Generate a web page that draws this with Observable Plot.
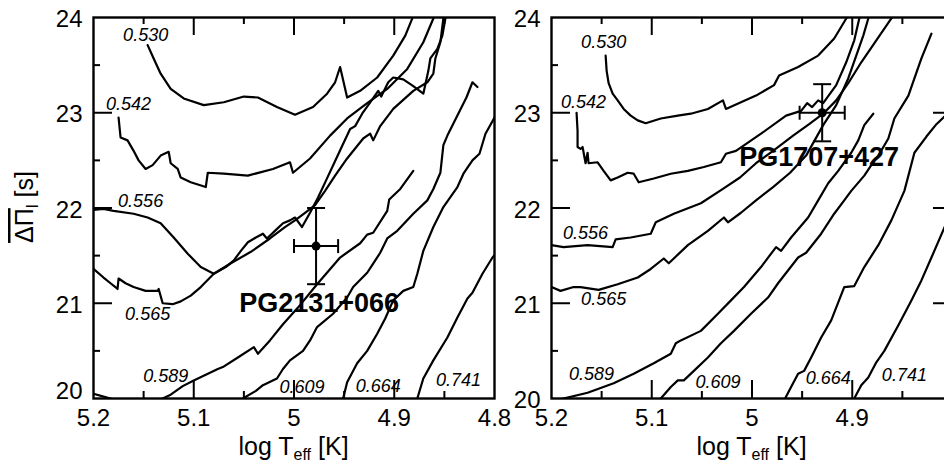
<!DOCTYPE html>
<html><head><meta charset="utf-8">
<script src="https://cdn.jsdelivr.net/npm/d3@7"></script>
<script src="https://cdn.jsdelivr.net/npm/@observablehq/plot@0.6"></script>
<style>
body{margin:0;background:#fff;}
#wrap{position:relative;width:944px;height:464px;overflow:hidden;background:#fff;}
#wrap svg{position:absolute;top:0;}
</style></head><body><div id="wrap"></div>
<script>
// ---- data: stellar masses (labels of the tracks) ----
const masses = ["0.530","0.542","0.556","0.565","0.589","0.609","0.664","0.741"];

// ---- left panel tracks: [log Teff, mean period spacing] ----
const left530 = [[5.146,23.71],[5.140,23.57],[5.133,23.41],[5.123,23.25],[5.110,23.15],[5.090,23.08],[5.070,23.11],[5.050,23.17],[5.036,23.16],[5.017,23.06],[4.999,22.98],[4.981,23.06],[4.967,23.20],[4.959,23.32],[4.954,23.48],[4.947,23.16],[4.934,23.23],[4.917,23.37],[4.901,23.60],[4.889,23.81],[4.882,23.99],[4.880,24.04]];
const left542 = [[5.175,22.95],[5.173,22.74],[5.166,22.71],[5.160,22.60],[5.155,22.50],[5.148,22.41],[5.141,22.45],[5.133,22.55],[5.125,22.59],[5.123,22.47],[5.116,22.41],[5.113,22.32],[5.103,22.27],[5.088,22.22],[5.086,22.37],[5.070,22.36],[5.046,22.34],[5.021,22.41],[5.004,22.48],[5.001,22.37],[4.984,22.52],[4.964,22.76],[4.947,22.94],[4.927,23.10],[4.907,23.25],[4.887,23.46],[4.871,23.74],[4.861,23.99],[4.859,24.04]];
const left556 = [[5.200,21.98],[5.190,21.99],[5.180,21.97],[5.160,21.94],[5.146,21.90],[5.133,21.84],[5.120,21.69],[5.106,21.52],[5.093,21.38],[5.080,21.31],[5.068,21.38],[5.060,21.45],[5.053,21.55],[5.046,21.64],[5.038,21.69],[5.031,21.73],[5.027,21.68],[5.019,21.76],[5.011,21.84],[5.004,21.87],[4.999,21.90],[4.992,21.80],[4.984,21.95],[4.976,22.11],[4.968,22.29],[4.960,22.47],[4.952,22.65],[4.944,22.83],[4.939,22.86],[4.932,22.99],[4.924,23.11],[4.916,23.23],[4.913,23.17],[4.906,23.32],[4.901,23.37],[4.891,23.35],[4.881,23.28],[4.871,23.20],[4.866,23.44],[4.864,23.57],[4.857,23.67],[4.852,23.81],[4.849,23.99],[4.848,24.04]];
const left565 = [[5.200,21.36],[5.190,21.27],[5.183,21.21],[5.176,21.15],[5.175,21.26],[5.168,21.21],[5.160,21.17],[5.148,21.13],[5.136,21.13],[5.135,21.15],[5.131,21.00],[5.121,20.99],[5.113,21.02],[5.103,21.08],[5.093,21.17],[5.080,21.31],[5.063,21.42],[5.043,21.54],[5.024,21.68],[5.009,21.80],[4.999,21.87],[4.989,21.95],[4.979,22.03],[4.969,22.18],[4.959,22.34],[4.947,22.52],[4.931,22.73],[4.924,22.78],[4.921,22.71],[4.914,22.86],[4.901,23.04],[4.881,23.23],[4.867,23.32],[4.861,23.41],[4.859,23.57],[4.854,23.74],[4.851,23.99],[4.850,24.04]];
const left589 = [[5.200,20.05],[5.190,20.02],[5.180,19.99],[5.168,19.96],[5.148,19.95],[5.136,19.97],[5.131,20.00],[5.123,20.04],[5.111,20.13],[5.100,20.19],[5.088,20.25],[5.076,20.31],[5.071,20.33],[5.056,20.43],[5.040,20.54],[5.036,20.47],[5.024,20.61],[5.011,20.78],[4.994,20.98],[4.977,21.20],[4.954,21.48],[4.934,21.63],[4.927,21.72],[4.921,21.74],[4.907,21.97],[4.905,22.09],[4.894,22.20],[4.881,22.39]];
const left609 = [[5.056,19.96],[5.051,20.00],[5.038,20.08],[5.031,20.14],[5.017,20.21],[5.011,20.31],[5.004,20.40],[4.991,20.50],[4.984,20.61],[4.977,20.75],[4.961,20.89],[4.947,21.06],[4.941,21.17],[4.927,21.32],[4.922,21.40],[4.914,21.53],[4.907,21.68],[4.897,21.76],[4.881,21.94],[4.867,22.08],[4.861,22.20],[4.854,22.37],[4.851,22.66],[4.847,22.76],[4.837,22.97],[4.828,23.16],[4.822,23.32],[4.817,23.27]];
const left664 = [[4.952,19.95],[4.951,20.00],[4.947,20.17],[4.937,20.37],[4.927,20.50],[4.917,20.68],[4.909,20.84],[4.901,21.03],[4.891,21.13],[4.881,21.17],[4.877,21.31],[4.871,21.55],[4.861,21.80],[4.851,22.01],[4.837,22.22],[4.831,22.36],[4.822,22.50],[4.815,22.57],[4.809,22.78],[4.800,22.95],[4.796,23.02]];
const left741 = [[4.879,19.95],[4.877,20.00],[4.871,20.21],[4.861,20.40],[4.847,20.64],[4.837,20.85],[4.827,21.05],[4.822,21.11],[4.812,21.31],[4.802,21.48],[4.798,21.53]];

// ---- right panel tracks ----
const right530 = [[5.146,23.60],[5.145,23.44],[5.143,23.31],[5.139,23.20],[5.134,23.13],[5.128,23.04],[5.121,22.97],[5.114,22.92],[5.106,22.89],[5.091,22.94],[5.074,22.97],[5.061,22.99],[5.044,23.04],[5.029,23.13],[5.026,23.04],[5.011,23.11],[4.996,23.18],[4.978,23.29],[4.973,23.39],[4.954,23.48],[4.934,23.60],[4.918,23.78],[4.906,23.99],[4.904,24.04]];
const right542 = [[5.175,23.00],[5.174,22.81],[5.174,22.64],[5.171,22.62],[5.169,22.64],[5.166,22.47],[5.164,22.58],[5.163,22.47],[5.154,22.48],[5.148,22.39],[5.141,22.29],[5.134,22.32],[5.124,22.37],[5.118,22.36],[5.113,22.27],[5.098,22.31],[5.081,22.36],[5.064,22.39],[5.048,22.43],[5.031,22.48],[5.026,22.57],[5.016,22.60],[4.991,22.78],[4.966,22.97],[4.951,23.02],[4.945,23.10],[4.940,23.06],[4.934,23.13],[4.929,23.10],[4.916,23.29],[4.906,23.53],[4.898,23.76],[4.893,23.99],[4.891,24.04]];
const right556 = [[5.200,21.61],[5.188,21.59],[5.164,21.61],[5.139,21.59],[5.136,21.67],[5.121,21.69],[5.101,21.73],[5.096,21.85],[5.078,21.94],[5.051,22.05],[5.029,22.20],[5.012,22.32],[4.996,22.47],[4.979,22.60],[4.959,22.76],[4.943,22.88],[4.929,22.99],[4.916,23.13],[4.904,23.31],[4.891,23.53],[4.876,23.76],[4.861,23.99],[4.858,24.04]];
const right565 = [[5.200,21.17],[5.191,21.13],[5.178,21.17],[5.171,21.17],[5.153,21.14],[5.134,21.20],[5.114,21.27],[5.101,21.36],[5.088,21.47],[5.083,21.42],[5.064,21.61],[5.044,21.76],[5.028,21.90],[5.024,21.85],[5.011,21.95],[4.996,22.08],[4.979,22.22],[4.962,22.37],[4.946,22.55],[4.929,22.87],[4.916,23.08],[4.904,23.36],[4.896,23.60],[4.889,23.81],[4.884,23.99],[4.883,24.04]];
const right589 = [[5.200,19.97],[5.184,20.01],[5.164,20.06],[5.138,20.16],[5.118,20.26],[5.098,20.37],[5.081,20.47],[5.076,20.58],[5.071,20.61],[5.051,20.71],[5.034,20.89],[5.021,21.03],[5.008,21.17],[4.991,21.38],[4.976,21.59],[4.971,21.55],[4.961,21.69],[4.944,21.90],[4.934,22.08],[4.924,22.26],[4.914,22.39],[4.901,22.58],[4.894,22.71],[4.888,22.87],[4.879,22.99]];
const right609 = [[5.094,19.96],[5.091,20.00],[5.081,20.12],[5.074,20.19],[5.068,20.19],[5.058,20.29],[5.044,20.43],[5.031,20.58],[5.018,20.71],[5.001,20.89],[4.984,21.06],[4.974,21.21],[4.954,21.48],[4.946,21.53],[4.931,21.73],[4.918,21.94],[4.908,22.08],[4.901,22.18],[4.888,22.34],[4.881,22.45],[4.874,22.55],[4.864,22.73],[4.858,22.94],[4.844,23.18],[4.838,23.36],[4.831,23.57],[4.821,23.83]];
const right664 = [[4.969,19.96],[4.967,20.00],[4.961,20.12],[4.954,20.26],[4.948,20.29],[4.941,20.43],[4.931,20.64],[4.921,20.82],[4.908,21.17],[4.898,21.18],[4.888,21.38],[4.874,21.61],[4.861,21.87],[4.848,22.18],[4.838,22.58],[4.826,22.75],[4.816,22.88],[4.807,22.97],[4.796,23.10]];
const right741 = [[4.900,19.96],[4.898,20.00],[4.891,20.14],[4.884,20.22],[4.876,20.38],[4.868,20.50],[4.854,20.77],[4.841,21.03],[4.831,21.24],[4.821,21.48],[4.807,21.82],[4.796,22.08]];

// ---- track label anchors ----
const leftLabelTeff  = [5.148,5.165,5.153,5.146,5.128,4.992,4.916,4.836];
const leftLabelDp    = [23.81,23.09,22.07,20.88,20.23,20.12,20.13,20.19];
const rightLabelTeff = [5.148,5.168,5.166,5.148,5.160,5.034,4.924,4.848];
const rightLabelDp   = [23.74,23.11,21.74,21.04,20.26,20.17,20.21,20.24];

// ---- observed stars ----
const starNames   = ["PG2131+066","PG1707+427"];
const starTeff    = [4.978, 4.930];
const starTeffErr = [0.022, 0.0225];
const starDp      = [21.6, 23.0];
const starDpErr   = [0.4, 0.3];
const starLabelTeff = [4.975, 4.933];
const starLabelDp   = [21.00, 22.53];

// ---- ticks ----
const xMajor = [5.1, 5.0, 4.9];
const xMinor = [5.15, 5.05, 4.95, 4.85];
const yMajor = [21, 22, 23];
const yMinor = [20.5, 21.5, 22.5, 23.5];
const xTickLabelsLeft  = [5.2, 5.1, 5.0, 4.9, 4.8];
const xTickLabelsRight = [5.2, 5.1, 5.0, 4.9];
const yTickLabels = [24, 23, 22, 21];
const yTickLabelBottom = [20];

// ---- layout ----
const FONT = "'Liberation Sans', Arial, Helvetica, sans-serif";
const W = 500, H = 464, ML = 93, MR = 6, MT = 17, MB = 66;
const PW = W - ML - MR, PH = H - MT - MB;

const vbar = {draw(ctx, size) { const r = Math.sqrt(size / Math.PI); ctx.moveTo(0, -r); ctx.lineTo(0, r); }};
const hbar = {draw(ctx, size) { const r = Math.sqrt(size / Math.PI); ctx.moveTo(-r, 0); ctx.lineTo(r, 0); }};

function panel(o) {
  const lineData = o.curves.flatMap((c, i) => c.map(([t, d]) => ({mass: masses[i], t, d})));
  const labels = masses.map((m, i) => ({m, t: o.labelTeff[i], d: o.labelDp[i]}));
  const k = o.star;
  const star = [{name: starNames[k], t: starTeff[k], et: starTeffErr[k], d: starDp[k], ed: starDpErr[k], lt: starLabelTeff[k], ld: starLabelDp[k]}];
  const tk = {stroke: "black", strokeWidth: 2};
  const marks = [
    Plot.line(lineData, {x: "t", y: "d", z: "mass", stroke: "black", strokeWidth: 2.2, strokeLinejoin: "round", clip: true}),
    Plot.tickX(xMajor, {x: d => d, insetTop: PH - 18, ...tk}),
    Plot.tickX(xMinor, {x: d => d, insetTop: PH - 7, ...tk}),
    Plot.tickX(xMajor, {x: d => d, insetBottom: PH - 18, ...tk}),
    Plot.tickX(xMinor, {x: d => d, insetBottom: PH - 7, ...tk}),
    Plot.tickY(yMajor, {y: d => d, insetRight: PW - 19, ...tk}),
    Plot.tickY(yMinor, {y: d => d, insetRight: PW - 7, ...tk}),
  ];
  if (o.rightTicks) {
    marks.push(Plot.tickY(yMajor, {y: d => d, insetLeft: PW - 19, ...tk}));
    marks.push(Plot.tickY(yMinor, {y: d => d, insetLeft: PW - 7, ...tk}));
  }
  marks.push(
    Plot.frame({stroke: "black", strokeWidth: 2.4}),
    Plot.text(o.xTicks, {x: d => d, text: d => String(d), frameAnchor: "bottom", lineAnchor: "top", dy: 10, fontSize: 24, fill: "black"}),
    Plot.text(yTickLabels, {y: d => d, text: d => String(d), frameAnchor: "left", textAnchor: "end", dx: -11, dy: 2, fontSize: 24, fill: "black"}),
    Plot.text(yTickLabelBottom, {y: d => d, text: d => String(d), frameAnchor: "left", textAnchor: "end", dx: -11, dy: o.bottomDy, fontSize: 24, fill: "black"}),
    Plot.text(labels, {x: "t", y: "d", text: "m", fontSize: 18, fontStyle: "italic", fill: "black"}),
    Plot.ruleY(star, {y: "d", x1: d => d.t - d.et, x2: d => d.t + d.et, stroke: "black", strokeWidth: 2}),
    Plot.ruleX(star, {x: "t", y1: d => d.d - d.ed, y2: d => d.d + d.ed, stroke: "black", strokeWidth: 2}),
    Plot.dot(star, {x: d => d.t - d.et, y: "d", symbol: vbar, r: 7, stroke: "black", strokeWidth: 2, fill: "none"}),
    Plot.dot(star, {x: d => d.t + d.et, y: "d", symbol: vbar, r: 7, stroke: "black", strokeWidth: 2, fill: "none"}),
    Plot.dot(star, {x: "t", y: d => d.d - d.ed, symbol: hbar, r: 9, stroke: "black", strokeWidth: 2, fill: "none"}),
    Plot.dot(star, {x: "t", y: d => d.d + d.ed, symbol: hbar, r: 9, stroke: "black", strokeWidth: 2, fill: "none"}),
    Plot.dot(star, {x: "t", y: "d", r: 4.5, fill: "black", stroke: "none"}),
    Plot.text(star, {x: "lt", y: "ld", text: "name", fontSize: 27, fontWeight: "bold", fill: "black"})
  );
  const svg = Plot.plot({
    width: W, height: H, marginLeft: ML, marginRight: MR, marginTop: MT, marginBottom: MB,
    x: {domain: [5.2, 4.8], axis: null},
    y: {domain: [20, 24], axis: null},
    style: {fontFamily: FONT, background: "transparent", overflow: "visible"},
    marks
  });
  const s = d3.select(svg);
  const t = s.append("text").attr("x", (ML + W - MR) / 2).attr("y", 455)
    .attr("text-anchor", "middle").attr("font-family", FONT).attr("font-size", 25).attr("fill", "black");
  t.append("tspan").text("log T");
  t.append("tspan").attr("font-size", 16).attr("dy", 5).text("eff");
  t.append("tspan").attr("dy", -5).text(" [K]");
  if (o.yTitle) {
    const g = s.append("text").attr("transform", "translate(33,207) rotate(-90)")
      .attr("text-anchor", "middle").attr("font-family", FONT).attr("font-size", 25).attr("fill", "black");
    g.append("tspan").attr("text-decoration", "overline").text("ΔΠ");
    g.append("tspan").attr("font-size", 17).attr("dy", 5).text("l");
    g.append("tspan").attr("dy", -5).text(" [s]");
  }
  svg.style.left = o.left + "px";
  return svg;
}

const wrap = document.getElementById("wrap");
wrap.append(panel({
  curves: [left530, left542, left556, left565, left589, left609, left664, left741],
  labelTeff: leftLabelTeff, labelDp: leftLabelDp, star: 0,
  xTicks: xTickLabelsLeft, rightTicks: false, yTitle: true, bottomDy: -7, left: 0
}));
wrap.append(panel({
  curves: [right530, right542, right556, right565, right589, right609, right664, right741],
  labelTeff: rightLabelTeff, labelDp: rightLabelDp, star: 1,
  xTicks: xTickLabelsRight, rightTicks: true, yTitle: false, bottomDy: 2, left: 458
}));
</script>
</body></html>
